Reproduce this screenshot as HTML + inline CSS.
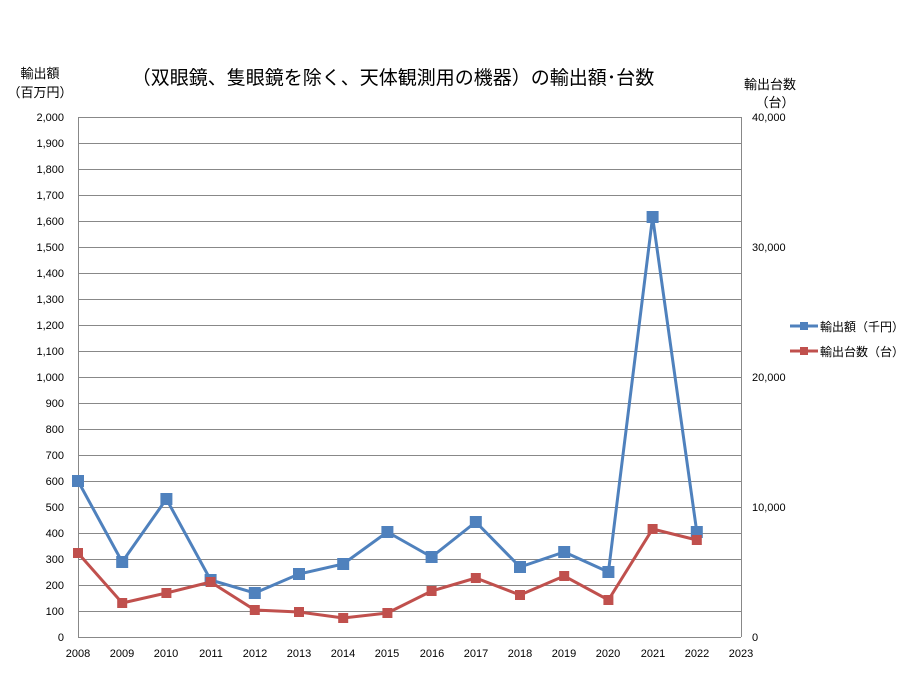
<html><head><style>body{margin:0;background:#fff}svg{font-family:"Liberation Sans","Noto Sans CJK JP",sans-serif}</style></head><body>
<svg width="914" height="679" xmlns="http://www.w3.org/2000/svg">
<rect width="914" height="679" fill="#fff"/>
<g stroke="#888" stroke-width="1">
<line x1="78" y1="117.5" x2="741" y2="117.5"/><line x1="78" y1="143.5" x2="741" y2="143.5"/><line x1="78" y1="169.5" x2="741" y2="169.5"/><line x1="78" y1="195.5" x2="741" y2="195.5"/><line x1="78" y1="221.5" x2="741" y2="221.5"/><line x1="78" y1="247.5" x2="741" y2="247.5"/><line x1="78" y1="273.5" x2="741" y2="273.5"/><line x1="78" y1="299.5" x2="741" y2="299.5"/><line x1="78" y1="325.5" x2="741" y2="325.5"/><line x1="78" y1="351.5" x2="741" y2="351.5"/><line x1="78" y1="377.5" x2="741" y2="377.5"/><line x1="78" y1="403.5" x2="741" y2="403.5"/><line x1="78" y1="429.5" x2="741" y2="429.5"/><line x1="78" y1="455.5" x2="741" y2="455.5"/><line x1="78" y1="481.5" x2="741" y2="481.5"/><line x1="78" y1="507.5" x2="741" y2="507.5"/><line x1="78" y1="533.5" x2="741" y2="533.5"/><line x1="78" y1="559.5" x2="741" y2="559.5"/><line x1="78" y1="585.5" x2="741" y2="585.5"/><line x1="78" y1="611.5" x2="741" y2="611.5"/><line x1="78" y1="637.5" x2="741" y2="637.5"/>
<line x1="78.5" y1="117" x2="78.5" y2="637"/><line x1="741.5" y1="117" x2="741.5" y2="637"/>
</g>
<g font-size="11" fill="#000" text-anchor="end">
<text x="64" y="121">2,000</text><text x="64" y="147">1,900</text><text x="64" y="173">1,800</text><text x="64" y="199">1,700</text><text x="64" y="225">1,600</text><text x="64" y="251">1,500</text><text x="64" y="277">1,400</text><text x="64" y="303">1,300</text><text x="64" y="329">1,200</text><text x="64" y="355">1,100</text><text x="64" y="381">1,000</text><text x="64" y="407">900</text><text x="64" y="433">800</text><text x="64" y="459">700</text><text x="64" y="485">600</text><text x="64" y="511">500</text><text x="64" y="537">400</text><text x="64" y="563">300</text><text x="64" y="589">200</text><text x="64" y="615">100</text><text x="64" y="641">0</text>
</g>
<g font-size="11" text-anchor="start">
<text x="752" y="121">40,000</text><text x="752" y="251">30,000</text><text x="752" y="381">20,000</text><text x="752" y="511">10,000</text><text x="752" y="641">0</text>
</g>
<g font-size="11" text-anchor="middle">
<text x="78" y="657">2008</text><text x="122" y="657">2009</text><text x="166" y="657">2010</text><text x="211" y="657">2011</text><text x="255" y="657">2012</text><text x="299" y="657">2013</text><text x="343" y="657">2014</text><text x="387" y="657">2015</text><text x="432" y="657">2016</text><text x="476" y="657">2017</text><text x="520" y="657">2018</text><text x="564" y="657">2019</text><text x="608" y="657">2020</text><text x="653" y="657">2021</text><text x="697" y="657">2022</text><text x="741" y="657">2023</text>
</g>
<text x="40" y="78" font-size="13" text-anchor="middle">輸出額</text>
<text x="40" y="97" font-size="13" text-anchor="middle">（百万円）</text>
<text x="770" y="89" font-size="13" text-anchor="middle">輸出台数</text>
<text x="775" y="107" font-size="13" text-anchor="middle">（台）</text>
<text x="393" y="84" font-size="19" text-anchor="middle">（双眼鏡、隻眼鏡を除く、天体観測用の機器）の輸出額･台数</text>
<polyline fill="none" stroke="#4f81bd" stroke-width="3" points="78,481 122.2,562 166.4,499 210.6,580 254.8,593 299,574 343.2,564 387.4,532 431.6,557 475.8,522 520,567 564.2,552 608.4,572 652.6,217 696.8,532"/>
<g fill="#4f81bd"><rect x="72" y="475" width="12" height="12"/><rect x="116.2" y="556" width="12" height="12"/><rect x="160.4" y="493" width="12" height="12"/><rect x="204.6" y="574" width="12" height="12"/><rect x="248.8" y="587" width="12" height="12"/><rect x="293" y="568" width="12" height="12"/><rect x="337.2" y="558" width="12" height="12"/><rect x="381.4" y="526" width="12" height="12"/><rect x="425.6" y="551" width="12" height="12"/><rect x="469.8" y="516" width="12" height="12"/><rect x="514" y="561" width="12" height="12"/><rect x="558.2" y="546" width="12" height="12"/><rect x="602.4" y="566" width="12" height="12"/><rect x="646.6" y="211" width="12" height="12"/><rect x="690.8" y="526" width="12" height="12"/></g>
<polyline fill="none" stroke="#c0504d" stroke-width="3" points="78,553 122.2,603 166.4,593 210.6,582 254.8,610 299,612 343.2,618 387.4,613 431.6,591 475.8,578 520,595 564.2,576 608.4,600 652.6,529 696.8,540"/>
<g fill="#c0504d"><rect x="73" y="548" width="10" height="10"/><rect x="117.2" y="598" width="10" height="10"/><rect x="161.4" y="588" width="10" height="10"/><rect x="205.6" y="577" width="10" height="10"/><rect x="249.8" y="605" width="10" height="10"/><rect x="294" y="607" width="10" height="10"/><rect x="338.2" y="613" width="10" height="10"/><rect x="382.4" y="608" width="10" height="10"/><rect x="426.6" y="586" width="10" height="10"/><rect x="470.8" y="573" width="10" height="10"/><rect x="515" y="590" width="10" height="10"/><rect x="559.2" y="571" width="10" height="10"/><rect x="603.4" y="595" width="10" height="10"/><rect x="647.6" y="524" width="10" height="10"/><rect x="691.8" y="535" width="10" height="10"/></g>
<line x1="790" y1="326" x2="818" y2="326" stroke="#4f81bd" stroke-width="3"/><rect x="800" y="322" width="8" height="8" fill="#4f81bd"/>
<text x="820" y="331" font-size="12">輸出額（千円）</text>
<line x1="790" y1="351" x2="818" y2="351" stroke="#c0504d" stroke-width="3"/><rect x="800" y="347" width="8" height="8" fill="#c0504d"/>
<text x="820" y="356" font-size="12">輸出台数（台）</text>
</svg>
</body></html>
